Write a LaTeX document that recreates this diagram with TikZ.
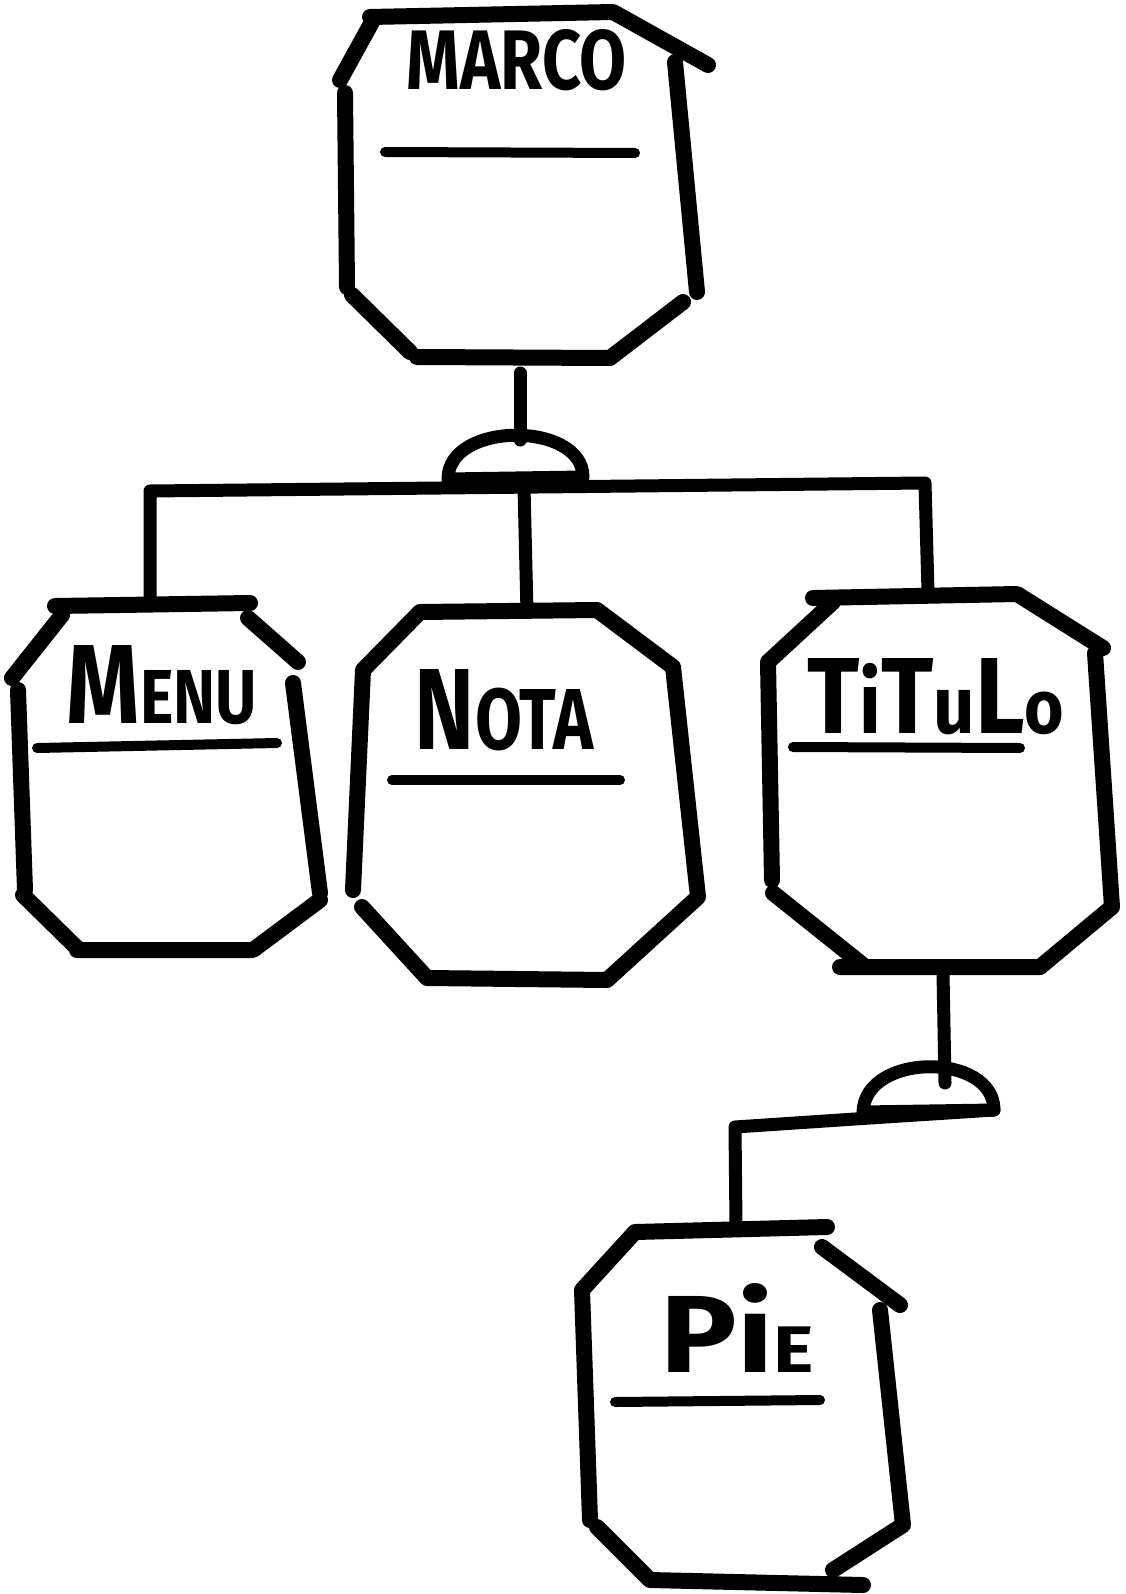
\documentclass[tikz,border=0pt]{standalone}
\usepackage{fontspec}
\setmainfont{Fira Sans}
\usepackage{graphicx}
\newcommand\hlbl[3]{\resizebox{#1pt}{#2pt}{\bfseries #3}}
\begin{document}
\begin{tikzpicture}[x=1pt,y=-1pt,
  pen/.style={line width=16pt,line cap=round,line join=round},
  uline/.style={line width=10pt,line cap=round},
  wire/.style={line width=13pt,line cap=round,line join=round},
  ttl/.style={inner sep=0pt,anchor=center}]
\useasboundingbox[fill=white] (0,0) rectangle (1125,1594);

% ---- MARCO ----
\draw[pen] (370,17)--(613,12)--(708,65);
\draw[pen] (675,62)--(697,292);
\draw[pen] (683,302)--(610,358)--(417,357);
\draw[pen] (352,295)--(410,352);
\draw[pen] (345,93)--(347,287);
\draw[pen] (340,80)--(372,22);
\node[ttl] (marco) at (517,60) {\hlbl{220}{60}{MARCO}};
\draw[uline] (385,152)--(635,153);

% ---- MENU ----
\draw[pen] (55,606)--(250,603);
\draw[pen] (248,618)--(298,662);
\draw[pen] (293,683)--(320,893);
\draw[pen] (320,900)--(253,950)--(77,950);
\draw[pen] (23,895)--(77,948);
\draw[pen] (18,690)--(25,890);
\draw[pen] (12,678)--(62,615);
\node[ttl] (menu) at (162,685) {\hlbl{190}{78}{M\scalebox{0.68}{ENU}}};
\draw[uline] (37,748)--(277,743);

% ---- NOTA ----
\draw[pen] (353,890)--(363,670)--(420,612)--(597,610)--(673,667)--(698,897)--(607,980)--(427,978)--(362,907);
\node[ttl] (nota) at (504,710) {\hlbl{178}{80}{N\scalebox{0.75}{OTA}}};
\draw[uline] (392,780)--(620,780);

% ---- TITULO ----
\draw[pen] (813,598)--(1017,594)--(1103,648);
\draw[pen] (772,880)--(768,662)--(833,602);
\draw[pen] (1095,653)--(1112,907)--(1040,967)--(840,967);
\draw[pen] (773,893)--(863,965);
\node[ttl] (titulo) at (936,697) {\hlbl{257}{75}{T\scalebox{0.8}{i}T\scalebox{0.75}{u}L\scalebox{0.7}{o}}};
\draw[uline] (793,747)--(1020,748);

% ---- PIE ----
\draw[pen] (590,1520)--(582,1290)--(635,1232)--(827,1227);
\draw[pen] (822,1247)--(900,1305);
\draw[pen] (880,1310)--(903,1525)--(833,1570);
\draw[pen] (597,1527)--(650,1580)--(863,1585);
\node[ttl] (pie) at (737,1328) {\hlbl{153}{89}{Pi\scalebox{0.6}{E}}};
\draw[uline] (615,1402)--(820,1400);

% ---- connectors (upper) ----
\coordinate (marcoB) at (520,373);
\coordinate (domeT) at (520,440);
\coordinate (domeL) at (448,479);
\coordinate (domeR) at (583,477);
\coordinate (jl) at (150,491);
\coordinate (jm) at (524,487);
\coordinate (jr) at (925,483);
\coordinate (menuT) at (150,600);
\coordinate (notaT) at (527,612);
\coordinate (tituloT) at (928,592);
\draw[wire] (marcoB)--(domeT);
\draw[wire] (domeL) .. controls (448,421) and (583,421) .. (domeR) -- cycle;
\draw[wire] (menuT)--(jl)--(jr)--(tituloT);
\draw[wire] (jm)--(notaT);

% ---- connectors (lower) ----
\coordinate (tituloB) at (943,973);
\coordinate (dome2T) at (945,1083);
\coordinate (dome2L) at (863,1112);
\coordinate (dome2R) at (994,1110);
\coordinate (jp) at (735,1127);
\coordinate (jq) at (870,1118);
\coordinate (pieT) at (736,1226);
\draw[wire] (tituloB)--(dome2T);
\draw[wire] (dome2L) .. controls (865,1052) and (994,1052) .. (dome2R) -- cycle;
\draw[wire] (pieT)--(jp)--(jq)--(dome2R);
\end{tikzpicture}
\end{document}
